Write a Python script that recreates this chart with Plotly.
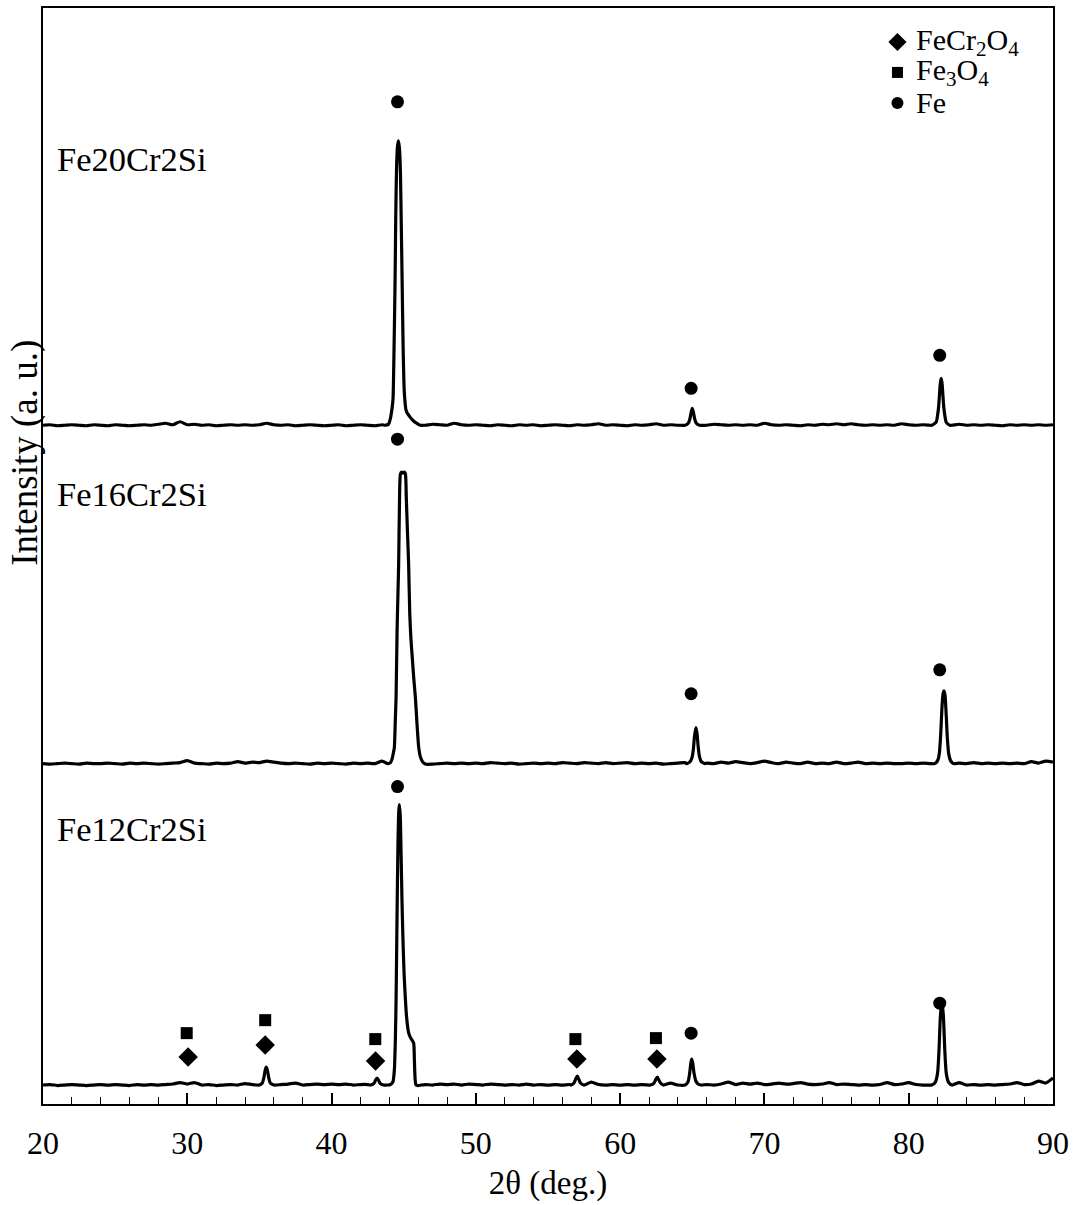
import numpy as np
import plotly.graph_objects as go

SERIF = "Liberation Serif"

# 2θ grid for background points (deg.)
bg_two_theta = np.round(np.arange(20.0, 90.0001, 0.5), 2)

# Background intensity (a.u.) above each pattern's own baseline, on the grid above
bg_fe20 = [0, 0.5, -0.5, 0, 0.5, 0, -0.5, 0.5, 0, -0.5,
           0.5, 0, -0.5, 0, 0.5, 0, 1, 2, 0.5, 3.5,
           0.5, 1, 0, 0.5, -0.5, 0, 0.5, 0, 0.5, 0,
           0.5, 2, 0.5, 0, 0.5, -0.5, 0, 0.5, 0, -0.5,
           0, 0.5, -0.5, 0, 0.5, 0, -0.5, 0.5, 1, 0,
           0, 0, 0, 0, 1, 0.5, 0, 2, 0.5, 0,
           0.5, 0, -0.5, 0.5, 0, -0.5, 0.5, 0, 0.5, -0.5,
           0, 0.5, 0, -0.5, 0.5, 0, 0.5, 1.5, 0, 0.5,
           0, -0.5, 0.5, 0, 0.5, 1.5, 0, 0.5, 0, 0.5,
           0, 0.5, 0, 1, 0.5, 0, 0.5, 0, 0.5, 0,
           2, 0.5, 0, 0.5, 0, -0.5, 0.5, 0, 1, 0.5,
           1.5, 0.5, 1.5, 0.5, 0, 0.5, 0, 0.5, 0, 1.5,
           0.5, 0, 0.5, 0, 0, 0, 0, 1, 0, 0.5,
           0, 0.5, 0, -0.5, 0.5, 0, 0.5, 0, 0.5, 0,
           0.5]

bg_fe16 = [0, -0.5, 0, 0.5, 0, -0.5, 0.5, 0, 0, 0.5,
           0, -0.5, 0.5, 0, 0.5, 0, -0.5, 0, 0.5, 1,
           3, 0.5, 0, -0.5, 0.5, 0, 0.5, 2, 0.5, 1.5,
           1, 2.5, 1.5, 0.5, 0, 0.5, 0, -0.5, 0.5, 0,
           0.5, 0, -0.5, 0.5, 0, 0.5, 0, 2.5, 0, 0,
           0, 0, 0, -1, -0.5, 0, 0.5, 0, 0.5, 0,
           0.5, 0, 1, 0.5, 0, 0.5, -0.5, 0, 0.5, 0,
           0.5, 0, 1, 0.5, 0, 1, 0.5, 0, 1, 0,
           0.5, 1, 0, 0.5, 0, 0.5, -0.5, 0, 0.5, 1,
           0, 0, 0.5, 0, 1.5, 0.5, 2, 1, 0, 1,
           2.5, 1, 0, 1.5, 0.5, 0, 1.5, 0, 0.5, 0,
           1.5, 0, 0.5, 1.5, 0, 0.5, 0, 0.5, 0, 0,
           0.5, 0, 0.5, 0, 0, 0, 0, 0.5, 0, 1,
           0, 0.5, 0, 0.5, 0, 0.5, 0, 2, 0.5, 2.5,
           1.5]

bg_fe12 = [0, 0.5, -0.5, 0, 0.5, 0, -0.5, 0, 0.5, 0,
           0.5, 0, -0.5, 0.5, 0, 0.5, 0, 0.5, 1, 2.5,
           1, 2.5, 0, 0.5, -0.5, 0, 0.5, 0, 1.5, 0.5,
           0, 0, 0, 0.5, 1, 2, 0, 0.5, 1, 0.5,
           1, 0.5, 1, 0, 0.5, 0.5, 0, 0, 0, 0,
           0, 0, 0, 0.5, 0, 1, 0.5, 1, 0, 1,
           0.5, 0, 1, 0.5, 0, 0.5, 0, 1, 0, 0.5,
           0, 0.5, 0, 0.5, 0, 0, 3, 0.5, 0, 0.5,
           0, 0.5, 0, 0.5, 0, 0.5, 0, 2, 0, 0,
           0, 0, 0.5, 0, 1, 3, 0.5, 2, 1, 2,
           0.5, 1, 2, 1, 1.5, 2.5, 1, 0.5, 1, 2.5,
           0.5, 1, 0.5, 0, 0.5, 0, 0.5, 2.5, 0.5, 1,
           2.5, 0.5, 0, 0, 0, 0, 0, 2.5, 0, 0.5,
           0, 0.5, 0, 0.5, 1, 2.5, 0.5, 1, 4, 2,
           7]

# Reflection profiles, (2θ, intensity above baseline)
fe20_peaks = [
    [(43.7, 0), (43.95, 1), (44.08, 7), (44.2, 18), (44.26, 27), (44.33, 77),
     (44.40, 144), (44.45, 211), (44.5, 255), (44.56, 278), (44.63, 285),
     (44.7, 278), (44.77, 255), (44.82, 211), (44.89, 144), (44.96, 77),
     (45.02, 40), (45.07, 27), (45.15, 16), (45.25, 12), (45.35, 10),
     (45.5, 7), (45.7, 4), (45.9, 2), (46.15, 0)],
    [(64.5, 0), (64.72, 2), (64.83, 6), (64.92, 13), (65.0, 17), (65.08, 13),
     (65.17, 6), (65.28, 2), (65.5, 0)],
    [(81.6, 0), (81.9, 3), (82.0, 10), (82.07, 18), (82.13, 30), (82.19, 42),
     (82.25, 47), (82.31, 42), (82.37, 30), (82.43, 18), (82.5, 10),
     (82.6, 3), (82.85, 0)],
]

fe16_peaks = [
    [(43.9, 0), (44.08, 1), (44.2, 5), (44.3, 12), (44.35, 16), (44.42, 45),
     (44.47, 66), (44.54, 133), (44.6, 170), (44.65, 200), (44.7, 255),
     (44.77, 290), (44.85, 292), (44.95, 291), (45.05, 292), (45.12, 290),
     (45.18, 266), (45.26, 232), (45.34, 200), (45.42, 150), (45.5, 125),
     (45.6, 105), (45.7, 85), (45.81, 66), (45.92, 40), (46.04, 16),
     (46.15, 7), (46.3, 2), (46.5, -0.5)],
    [(64.6, 0), (64.85, 2), (64.98, 6), (65.08, 15), (65.15, 27), (65.25, 36),
     (65.33, 30), (65.4, 18), (65.5, 7), (65.62, 2), (65.9, 0)],
    [(81.8, 0), (82.0, 3), (82.12, 10), (82.22, 30), (82.3, 55), (82.38, 70),
     (82.45, 73), (82.52, 68), (82.6, 48), (82.68, 25), (82.77, 10),
     (82.9, 3), (83.1, 0)],
]

fe12_peaks = [
    [(35.0, 0), (35.2, 2), (35.3, 7), (35.4, 15), (35.47, 18), (35.55, 15),
     (35.65, 7), (35.75, 2), (36.0, 0)],
    [(42.7, 0), (42.95, 2), (43.05, 5), (43.15, 7), (43.25, 5), (43.35, 2),
     (43.6, 0)],
    [(43.9, 0), (44.08, 0.5), (44.25, 3), (44.35, 15), (44.42, 45), (44.47, 85),
     (44.53, 160), (44.6, 240), (44.66, 275), (44.7, 281), (44.76, 270),
     (44.82, 230), (44.88, 185), (44.95, 145), (45.03, 110), (45.12, 85),
     (45.2, 68), (45.33, 53), (45.45, 48), (45.58, 45), (45.69, 42),
     (45.74, 25), (45.79, 6), (45.85, 0), (46.0, -0.5), (46.2, 0)],
    [(56.6, 0), (56.8, 2), (56.92, 6), (57.03, 9), (57.13, 6), (57.25, 2),
     (57.5, 0)],
    [(62.1, 0), (62.35, 2), (62.48, 6), (62.58, 8), (62.68, 5), (62.8, 2),
     (63.0, 0)],
    [(64.5, 0), (64.7, 3), (64.82, 12), (64.9, 22), (64.96, 26), (65.03, 22),
     (65.12, 12), (65.25, 4), (65.4, 1), (65.6, 0)],
    [(81.6, 0), (81.85, 3), (82.0, 12), (82.1, 35), (82.2, 70), (82.3, 83),
     (82.4, 70), (82.5, 35), (82.6, 12), (82.75, 3), (83.0, 0)],
]

# Vertical stacking offset of each pattern (a.u.)
samples = ["Fe20Cr2Si", "Fe16Cr2Si", "Fe12Cr2Si"]
offsets = {"Fe20Cr2Si": 680, "Fe16Cr2Si": 341, "Fe12Cr2Si": 19}
backgrounds = {"Fe20Cr2Si": bg_fe20, "Fe16Cr2Si": bg_fe16, "Fe12Cr2Si": bg_fe12}
peaks = {"Fe20Cr2Si": fe20_peaks, "Fe16Cr2Si": fe16_peaks, "Fe12Cr2Si": fe12_peaks}
label_height = {"Fe20Cr2Si": 267, "Fe16Cr2Si": 270, "Fe12Cr2Si": 257}

# Phase identification marks, (2θ, height above baseline)
fe_marks = {
    "Fe20Cr2Si": [(44.57, 324), (64.92, 37), (82.15, 70)],
    "Fe16Cr2Si": [(44.57, 325), (64.92, 70), (82.15, 94)],
    "Fe12Cr2Si": [(44.57, 299), (64.92, 52), (82.15, 82)],
}
fe3o4_marks = [(29.96, 52), (35.40, 65), (43.03, 46), (56.90, 46), (62.48, 47)]
fecr2o4_marks = [(30.06, 28), (35.40, 40), (43.05, 24), (57.0, 26), (62.55, 26)]

# Phase key: symbol, marker size, label
phases = [("diamond", 14, "FeCr<sub>2</sub>O<sub>4</sub>"),
          ("square", 11, "Fe<sub>3</sub>O<sub>4</sub>"),
          ("circle", 12, "Fe")]


def pattern(name):
    """Merge background points with the reflection profiles of one pattern."""
    segs = peaks[name]
    pts = [(x, y) for x, y in zip(bg_two_theta, backgrounds[name])
           if not any(s[0][0] <= x <= s[-1][0] for s in segs)]
    for s in segs:
        pts.extend(s)
    pts.sort()
    xs = [p[0] for p in pts]
    ys = [p[1] + offsets[name] for p in pts]
    return xs, ys


fig = go.Figure()

for name in samples:
    xs, ys = pattern(name)
    fig.add_trace(go.Scatter(x=xs, y=ys, mode="lines", showlegend=False,
                             line=dict(color="black", width=3.2, shape="spline",
                                       smoothing=0.6)))

# Phase markers
fig.add_trace(go.Scatter(
    x=[m[0] for m in fecr2o4_marks],
    y=[m[1] + offsets["Fe12Cr2Si"] for m in fecr2o4_marks],
    mode="markers", showlegend=False,
    marker=dict(symbol="diamond", size=15, color="black")))
fig.add_trace(go.Scatter(
    x=[m[0] for m in fe3o4_marks],
    y=[m[1] + offsets["Fe12Cr2Si"] for m in fe3o4_marks],
    mode="markers", showlegend=False,
    marker=dict(symbol="square", size=12, color="black")))
fe_x, fe_y = [], []
for name in samples:
    for x, h in fe_marks[name]:
        fe_x.append(x)
        fe_y.append(h + offsets[name])
fig.add_trace(go.Scatter(
    x=fe_x, y=fe_y, mode="markers", showlegend=False,
    marker=dict(symbol="circle", size=13, color="black")))

# Phase key in the upper right corner (overlay axes in plot fractions)
key_x, key_y0, key_dy = 0.846, 0.969, 0.0278
for i, (symbol, size, label) in enumerate(phases):
    ky = key_y0 - i * key_dy
    fig.add_trace(go.Scatter(
        x=[key_x], y=[ky], xaxis="x2", yaxis="y2", mode="markers",
        showlegend=False, hoverinfo="skip", opacity=1,
        marker=dict(symbol=symbol, size=size, color="#000000", opacity=1,
                    line=dict(width=0))))
    fig.add_annotation(x=key_x + 0.0165, xref="x2", y=ky, yref="y2",
                       text=label, showarrow=False, xanchor="left", yanchor="middle",
                       font=dict(family=SERIF, size=30, color="black"))

# Sample labels
for name in samples:
    fig.add_annotation(x=0.012, xref="paper", y=offsets[name] + label_height[name],
                       yref="y", text=name, showarrow=False, xanchor="left",
                       yanchor="middle", font=dict(family=SERIF, size=34.5, color="black"))

fig.add_annotation(x=-0.018, xref="paper", y=0.594, yref="paper",
                   text="Intensity (a. u.)", textangle=-90, showarrow=False,
                   xanchor="center", yanchor="middle",
                   font=dict(family=SERIF, size=37, color="black"))

fig.update_layout(
    width=1077, height=1205,
    margin=dict(l=43, r=24, t=6, b=101),
    plot_bgcolor="white", paper_bgcolor="white",
    font=dict(family=SERIF, color="black"),
    showlegend=False,
    xaxis=dict(
        range=[20, 90], tick0=20, dtick=10, showgrid=False, zeroline=False,
        showline=True, linecolor="black", linewidth=1.5, mirror=True,
        ticks="inside", ticklen=11, tickwidth=1.5, tickcolor="black",
        minor=dict(dtick=2, ticks="inside", ticklen=7, tickwidth=1.2,
                   tickcolor="black", showgrid=False),
        tickfont=dict(family=SERIF, size=32, color="black"),
        ticklabelstandoff=10,
        title=dict(text="2θ (deg.)", font=dict(family=SERIF, size=33, color="black"),
                   standoff=11),
    ),
    yaxis=dict(
        range=[0, 1098], showgrid=False, zeroline=False, showticklabels=False,
        showline=True, linecolor="black", linewidth=1.5, mirror=True, ticks="",
    ),
    xaxis2=dict(overlaying="x", range=[0, 1], visible=False, fixedrange=True),
    yaxis2=dict(overlaying="y", range=[0, 1], visible=False, fixedrange=True),
)

fig.write_html("out.html")
